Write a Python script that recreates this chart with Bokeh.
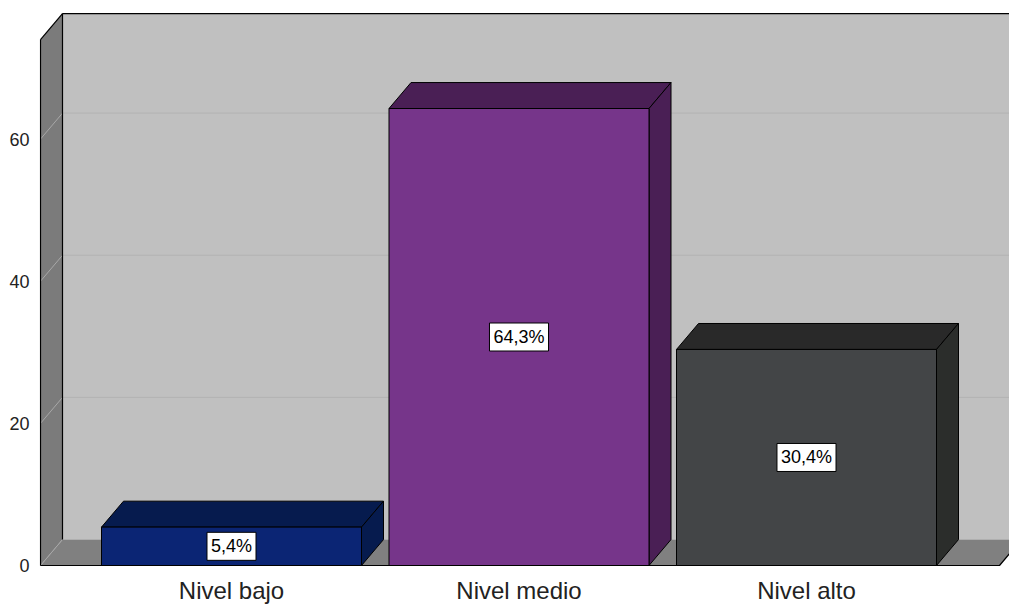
from bokeh.plotting import figure
from bokeh.models import Range1d, FixedTicker, ColumnDataSource
from bokeh.embed import file_html
from bokeh.resources import INLINE
from bokeh.core.properties import value

# ---- data ----
categories = ["Nivel bajo", "Nivel medio", "Nivel alto"]
percentages = [5.4, 64.3, 30.4]
bar_labels = ["5,4%", "64,3%", "30,4%"]
y_ticks = [0, 20, 40, 60]
front_colors = ["#0b2574", "#76358a", "#434547"]
top_colors = ["#061b4e", "#4a1f55", "#292929"]
side_colors = ["#061b4e", "#4a1f55", "#2b2d2b"]

# ---- 3D geometry (style constants) ----
PX_X = 287.5          # px per category step
PX_Y = 7.12           # px per percent
X_START = (39 - 231) / PX_X
X_END = (1009 - 231) / PX_X
WALL_X = (40 - 231) / PX_X
Y_START = -2 / PX_Y
Y_END = 554 / PX_Y
AXIS_MAX = 74.0
DX = 22 / PX_X
DY = 26 / PX_Y
BAR_W = 260 / PX_X
FLOOR_END = (999 - 231) / PX_X
FAR = 3.2

idx = list(range(len(categories)))

p = figure(width=1009, height=606,
           x_range=Range1d(X_START, X_END), y_range=Range1d(Y_START, Y_END),
           output_backend="svg", toolbar_location=None,
           min_border_left=39, min_border_right=0, min_border_top=12, min_border_bottom=38)
p.outline_line_color = None
p.background_fill_color = "white"
p.border_fill_color = "white"
p.xgrid.visible = False
p.ygrid.visible = False

# back wall
p.patch([WALL_X + DX, FAR, FAR, WALL_X + DX],
        [DY, DY, AXIS_MAX + DY, AXIS_MAX + DY],
        fill_color="#c0c0c0", line_color=None)
# left wall
p.patch([WALL_X, WALL_X + DX, WALL_X + DX, WALL_X],
        [0, DY, AXIS_MAX + DY, AXIS_MAX],
        fill_color="#7b7b7b", line_color=None)
# floor
p.patch([WALL_X, FLOOR_END, FLOOR_END + DX, WALL_X + DX],
        [0, 0, DY, DY],
        fill_color="#808080", line_color=None)

# gridlines
for t in y_ticks:
    p.line([WALL_X, WALL_X + DX], [t, t + DY], line_color="#a8a8a8", line_width=1)
    if t > 0:
        p.line([WALL_X + DX, FAR], [t + DY, t + DY], line_color="#b2b2b2", line_width=1)

# frame edges
edge = dict(line_color="black", line_width=1.2)
p.line([WALL_X, WALL_X], [0, AXIS_MAX], **edge)
p.line([WALL_X, WALL_X + DX], [AXIS_MAX, AXIS_MAX + DY], **edge)
p.line([WALL_X + DX, FAR], [AXIS_MAX + DY, AXIS_MAX + DY], **edge)
p.line([WALL_X + DX, WALL_X + DX], [DY, AXIS_MAX + DY], **edge)
p.line([WALL_X, FLOOR_END, FLOOR_END + DX], [0, 0, DY], **edge)

# bars
lefts = [i - BAR_W / 2 for i in idx]
rights = [i + BAR_W / 2 for i in idx]
top_xs = [[l, r, r + DX, l + DX] for l, r in zip(lefts, rights)]
top_ys = [[v, v, v + DY, v + DY] for v in percentages]
side_xs = [[r, r, r + DX, r + DX] for r in rights]
side_ys = [[0, v, v + DY, DY] for v in percentages]

p.patches(top_xs, top_ys, fill_color=top_colors, line_color="black", line_width=1)
p.patches(side_xs, side_ys, fill_color=side_colors, line_color="black", line_width=1)
p.vbar(x=idx, width=BAR_W, top=percentages, bottom=0,
       fill_color=front_colors, line_color="black", line_width=1)

# value labels
lab_src = ColumnDataSource(dict(x=idx, y=[v / 2 for v in percentages], t=bar_labels))
p.text(x="x", y="y", text="t", source=lab_src,
       text_align="center", text_baseline="middle",
       text_font=value("Liberation Sans"), text_font_size="18px", text_color="black",
       background_fill_color="white", border_line_color="black", border_line_width=1,
       padding=4)

# axes
p.xaxis.ticker = FixedTicker(ticks=idx)
p.xaxis.major_label_overrides = {i: c for i, c in zip(idx, categories)}
p.xaxis.axis_line_color = None
p.xaxis.major_tick_line_color = None
p.xaxis.major_tick_out = 0
p.xaxis.major_tick_in = 0
p.xaxis.minor_tick_line_color = None
p.xaxis.major_label_standoff = 9
p.xaxis.major_label_text_font = "Liberation Sans"
p.xaxis.major_label_text_font_size = "24px"
p.xaxis.major_label_text_color = "#222222"

p.yaxis.ticker = FixedTicker(ticks=y_ticks)
p.yaxis.axis_line_color = None
p.yaxis.major_tick_line_color = None
p.yaxis.major_tick_out = 0
p.yaxis.major_tick_in = 0
p.yaxis.minor_tick_line_color = None
p.yaxis.major_label_standoff = 10
p.yaxis.major_label_text_font = "Liberation Sans"
p.yaxis.major_label_text_font_size = "18px"
p.yaxis.major_label_text_color = "#222222"

open("out.html", "w").write(file_html(p, INLINE))
